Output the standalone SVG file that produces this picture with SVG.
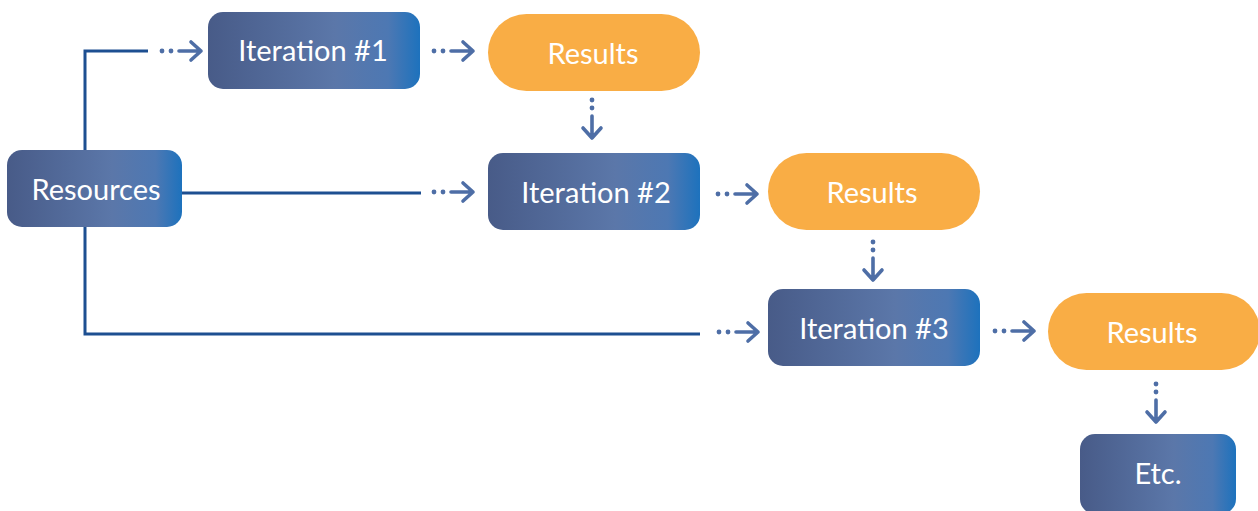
<svg xmlns="http://www.w3.org/2000/svg" xmlns:xlink="http://www.w3.org/1999/xlink" width="1258" height="511" viewBox="0 0 1258 511">
<defs>
<linearGradient id="blueGrad" x1="0" y1="0" x2="1" y2="0">
<stop offset="0" stop-color="#485b88"/>
<stop offset="0.6" stop-color="#5b77a9"/>
<stop offset="0.85" stop-color="#4d78b3"/>
<stop offset="1" stop-color="#1d72bd"/>
</linearGradient>
<g id="arrowR">
<circle cx="0" cy="0" r="2.4" fill="#4e6ea6"/>
<circle cx="9" cy="0" r="2.4" fill="#4e6ea6"/>
<path d="M17,0 H39 M29,-9 L39,0 L29,9" fill="none" stroke="#4e6ea6" stroke-width="3.6" stroke-linecap="round" stroke-linejoin="round"/>
</g>
<g id="arrowD">
<circle cx="0" cy="0" r="2.4" fill="#4e6ea6"/>
<circle cx="0" cy="8" r="2.4" fill="#4e6ea6"/>
<path d="M0,16 V38 M-9,28 L0,38 L9,28" fill="none" stroke="#4e6ea6" stroke-width="3.6" stroke-linecap="round" stroke-linejoin="round"/>
</g>
</defs>
<style>
.blue{fill:url(#blueGrad);}
.orange{fill:#f9ad45;}
.lbl{font-family:Lato,"Noto Sans","Liberation Sans",sans-serif;font-size:29px;fill:#ffffff;text-anchor:middle;dominant-baseline:central;}
.line{fill:none;stroke:#1d4f91;stroke-width:3;}
</style>
<g id="connectors">
<path class="line" d="M85,150 V51 H148"/>
<path class="line" d="M182,193 H421"/>
<path class="line" d="M85,227 V334 H700"/>
<use xlink:href="#arrowR" x="162" y="51"/>
<use xlink:href="#arrowR" x="434" y="51"/>
<use xlink:href="#arrowR" x="434" y="192"/>
<use xlink:href="#arrowR" x="718" y="194"/>
<use xlink:href="#arrowR" x="719" y="332"/>
<use xlink:href="#arrowR" x="995" y="331"/>
<use xlink:href="#arrowD" x="592" y="100"/>
<use xlink:href="#arrowD" x="873" y="242"/>
<use xlink:href="#arrowD" x="1156" y="384"/>
</g>
<g id="resources">
<rect class="blue" x="7" y="150" width="175" height="77" rx="15"/>
<text class="lbl" x="96" y="188">Resources</text>
</g>
<g id="iteration1">
<rect class="blue" x="208" y="12" width="212" height="77" rx="15"/>
<text class="lbl" x="313" y="49">Iteration #1</text>
</g>
<g id="results1">
<rect class="orange" x="488" y="14" width="212" height="77" rx="38.5"/>
<text class="lbl" x="593" y="52">Results</text>
</g>
<g id="iteration2">
<rect class="blue" x="488" y="153" width="212" height="77" rx="15"/>
<text class="lbl" x="596" y="191">Iteration #2</text>
</g>
<g id="results2">
<rect class="orange" x="768" y="153" width="212" height="77" rx="38.5"/>
<text class="lbl" x="872" y="191">Results</text>
</g>
<g id="iteration3">
<rect class="blue" x="768" y="289" width="212" height="77" rx="15"/>
<text class="lbl" x="874" y="327">Iteration #3</text>
</g>
<g id="results3">
<rect class="orange" x="1048" y="293" width="212" height="77" rx="38.5"/>
<text class="lbl" x="1152" y="331">Results</text>
</g>
<g id="etc">
<rect class="blue" x="1080" y="434" width="156" height="80" rx="15"/>
<text class="lbl" x="1158" y="472">Etc.</text>
</g>
</svg>
